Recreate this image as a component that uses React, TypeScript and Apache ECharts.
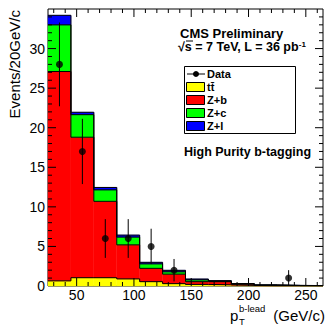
import React, { useEffect, useRef } from 'react';
import * as echarts from 'echarts';

// bin edges in GeV/c
const binEdges = [25, 45, 65, 85, 105, 125, 145, 165, 185, 205, 225, 245, 265];
// stacked components (events per bin), bottom to top
const ttbar = [0.65, 1.05, 1.05, 0.9, 0.55, 0.3, 0.2, 0.15, 0.08, 0.03, 0.03, 0.02];
const zPlusB = [26.45, 17.75, 9.65, 4.3, 1.68, 1.2, 0.35, 0.4, 0.17, 0.07, 0.03, 0.02];
const zPlusC = [5.9, 2.85, 1.45, 0.98, 0.57, 0.3, 0.23, 0.07, 0.03, 0.02, 0.01, 0.01];
const zPlusL = [1.2, 0.3, 0.3, 0.25, 0.19, 0.18, 0.1, 0.05, 0.02, 0.01, 0.01, 0.005];
// observed data counts
const dataCounts = [28, 17, 6, 6, 5, 2, 0, 0, 0, 0, 1, 0];

const componentNames = ['tt\u0304', 'Z+b', 'Z+c', 'Z+l'];
const componentColors = ['#ffff00', '#ff0000', '#00ff00', '#0000ff'];

// axis ticks
const xMajorTicks = [50, 100, 150, 200, 250];
const xMinorTicks = [30, 40, 60, 70, 80, 90, 110, 120, 130, 140, 160, 170, 180, 190, 210, 220, 230, 240, 260];
const yMajorTicks = [5, 10, 15, 20, 25, 30];
const yMinorTicks = [1, 2, 3, 4, 6, 7, 8, 9, 11, 12, 13, 14, 16, 17, 18, 19, 21, 22, 23, 24, 26, 27, 28, 29, 31, 32, 33, 34];

const X_MIN = 25, X_MAX = 265, Y_MIN = 0, Y_MAX = 35;
const FONT = 'Liberation Sans, Arial, Helvetica, sans-serif';

export default function App() {
  const ref = useRef<HTMLDivElement>(null);

  useEffect(() => {
    if (!ref.current) return;
    const chart = echarts.init(ref.current, undefined, { renderer: 'svg' });

    const comps = [ttbar, zPlusB, zPlusC, zPlusL];
    const nBins = binEdges.length - 1;
    const lowers: number[][] = [];
    const uppers: number[][] = [];
    let running = new Array(nBins).fill(0);
    comps.forEach((c) => {
      const lo = running.slice();
      const up = running.map((v, i) => v + c[i]);
      lowers.push(lo);
      uppers.push(up);
      running = up;
    });

    const fillSeries = comps.map((_, ci) => ({
      type: 'custom',
      name: componentNames[ci],
      coordinateSystem: 'cartesian2d',
      silent: true,
      z: 2,
      data: Array.from({ length: nBins }, (_, i) => [binEdges[i], binEdges[i + 1], lowers[ci][i], uppers[ci][i]]),
      encode: { x: [0, 1], y: [2, 3] },
      renderItem: (params: any, api: any) => {
        const p0 = api.coord([api.value(0), api.value(3)]);
        const p1 = api.coord([api.value(1), api.value(2)]);
        return {
          type: 'rect',
          shape: { x: p0[0], y: p0[1], width: p1[0] - p0[0], height: p1[1] - p0[1] },
          style: { fill: componentColors[ci], stroke: componentColors[ci], lineWidth: 0.4 },
        };
      },
    }));

    const outlineSeries = uppers.map((up) => ({
      type: 'line',
      step: 'end',
      silent: true,
      z: 3,
      showSymbol: false,
      symbol: 'none',
      lineStyle: { color: '#000', width: 1 },
      data: binEdges.map((x, i) => [x, up[Math.min(i, nBins - 1)]]),
    }));

    const dataPoints = dataCounts
      .map((n, i) => [(binEdges[i] + binEdges[i + 1]) / 2, n])
      .filter((d) => d[1] > 0);

    const errorSeries = {
      type: 'custom',
      coordinateSystem: 'cartesian2d',
      silent: true,
      z: 4,
      data: dataPoints.map((d) => [d[0], d[1] - Math.sqrt(d[1]), d[1] + Math.sqrt(d[1])]),
      encode: { x: 0, y: [1, 2] },
      renderItem: (params: any, api: any) => {
        const a = api.coord([api.value(0), api.value(1)]);
        const b = api.coord([api.value(0), api.value(2)]);
        return {
          type: 'line',
          shape: { x1: a[0], y1: a[1], x2: b[0], y2: b[1] },
          style: { stroke: '#000', lineWidth: 1 },
        };
      },
    };

    const scatterSeries = {
      type: 'scatter',
      z: 5,
      silent: true,
      symbol: 'circle',
      symbolSize: 7,
      itemStyle: { color: '#000' },
      data: dataPoints,
    };

    const tickSeries = {
      type: 'custom',
      coordinateSystem: 'cartesian2d',
      silent: true,
      z: 6,
      clip: false,
      data: [[X_MIN, Y_MIN]],
      renderItem: (params: any, api: any) => {
        const children: any[] = [];
        const ln = (x1: number, y1: number, x2: number, y2: number) =>
          children.push({ type: 'line', shape: { x1, y1, x2, y2 }, style: { stroke: '#000', lineWidth: 1 } });
        const xt = (v: number, len: number) => {
          const b = api.coord([v, Y_MIN]);
          const t = api.coord([v, Y_MAX]);
          ln(b[0], b[1], b[0], b[1] - len);
          ln(t[0], t[1], t[0], t[1] + len);
        };
        const yt = (v: number, len: number) => {
          const l = api.coord([X_MIN, v]);
          const r = api.coord([X_MAX, v]);
          ln(l[0], l[1], l[0] + len, l[1]);
          ln(r[0], r[1], r[0] - len, r[1]);
        };
        xMajorTicks.forEach((v) => xt(v, 8));
        xMinorTicks.forEach((v) => xt(v, 4));
        yMajorTicks.forEach((v) => yt(v, 8));
        yMinorTicks.forEach((v) => yt(v, 4));
        return { type: 'group', children };
      },
    };

    const legendTop = 66;
    const rowH = 13;
    const legendChildren: any[] = [
      { type: 'rect', shape: { x: 184.5, y: legendTop + 0.5, width: 111, height: 67 }, style: { fill: '#fff', stroke: '#000', lineWidth: 1 } },
      { type: 'line', shape: { x1: 187, y1: legendTop + 8, x2: 205, y2: legendTop + 8 }, style: { stroke: '#000', lineWidth: 1 } },
      { type: 'circle', shape: { cx: 196, cy: legendTop + 8, r: 3 }, style: { fill: '#000' } },
      { type: 'text', x: 207, y: legendTop + 8, style: { text: 'Data', font: `bold 11px ${FONT}`, fill: '#000', verticalAlign: 'middle' } },
    ];
    componentNames.forEach((name, i) => {
      const cy = legendTop + 8 + rowH * (i + 1);
      legendChildren.push({
        type: 'rect',
        shape: { x: 186.5, y: cy - 4.5, width: 18, height: 9 },
        style: { fill: componentColors[i], stroke: '#000', lineWidth: 1 },
      });
      legendChildren.push({
        type: 'text', x: 207, y: cy,
        style: { text: name, font: `bold 11px ${FONT}`, fill: '#000', verticalAlign: 'middle' },
      });
    });

    chart.setOption({
      animation: false,
      backgroundColor: '#fff',
      grid: {
        left: 48, right: 3, top: 9, bottom: 40,
        show: true, borderColor: '#000', borderWidth: 1, backgroundColor: 'transparent',
        containLabel: false, outerBoundsMode: 'none',
      },
      xAxis: {
        type: 'value', min: X_MIN, max: X_MAX, interval: 5,
        axisLine: { show: false }, axisTick: { show: false }, splitLine: { show: false },
        axisLabel: {
          show: true, margin: 2, color: '#000', fontSize: 14, fontFamily: FONT,
          showMinLabel: false, showMaxLabel: false, hideOverlap: false,
          formatter: (v: number) => (v % 50 === 0 ? String(v) : ''),
        },
      },
      yAxis: {
        type: 'value', min: Y_MIN, max: Y_MAX, interval: 5,
        axisLine: { show: false }, axisTick: { show: false }, splitLine: { show: false },
        axisLabel: {
          show: true, margin: 3, color: '#000', fontSize: 14, fontFamily: FONT,
          formatter: (v: number) => (v <= 30 ? String(v) : ''),
        },
      },
      series: [...fillSeries, ...outlineSeries, errorSeries, scatterSeries, tickSeries],
      graphic: [
        {
          type: 'text', x: 14, y: 10, rotation: Math.PI / 2,
          style: { text: 'Events/20GeV/c', font: `15px ${FONT}`, fill: '#000', align: 'right', verticalAlign: 'middle' },
        },
        { type: 'text', x: 230, y: 315, style: { text: 'p', font: `15px ${FONT}`, fill: '#000', verticalAlign: 'middle' } },
        { type: 'text', x: 239, y: 321.5, style: { text: 'T', font: `9.5px ${FONT}`, fill: '#000', verticalAlign: 'middle' } },
        { type: 'text', x: 239, y: 308.5, style: { text: 'b-lead', font: `9.5px ${FONT}`, fill: '#000', verticalAlign: 'middle' } },
        { type: 'text', x: 325, y: 315, style: { text: '(GeV/c)', font: `15px ${FONT}`, fill: '#000', align: 'right', verticalAlign: 'middle' } },
        { type: 'text', x: 180, y: 33, style: { text: 'CMS Preliminary', font: `bold 13px ${FONT}`, fill: '#000', verticalAlign: 'middle' } },
        {
          type: 'text', x: 178, y: 47,
          style: {
            text: '{a|\u221As = 7 TeV, L = 36 pb}{b|-1}',
            verticalAlign: 'middle',
            rich: {
              a: { font: `bold 12.5px ${FONT}`, fill: '#000', lineHeight: 14 },
              b: { font: `bold 8px ${FONT}`, fill: '#000', verticalAlign: 'top', lineHeight: 14 },
            },
          },
        },
        { type: 'line', shape: { x1: 186, y1: 41, x2: 193, y2: 41 }, style: { stroke: '#000', lineWidth: 1 } },
        { type: 'group', children: legendChildren },
        { type: 'text', x: 184, y: 152, style: { text: 'High Purity b-tagging', font: `bold 12.5px ${FONT}`, fill: '#000', verticalAlign: 'middle' } },
      ],
    });

    return () => chart.dispose();
  }, []);

  return <div ref={ref} style={{ position: 'absolute', left: 0, top: 0, width: 326, height: 326 }} />;
}
